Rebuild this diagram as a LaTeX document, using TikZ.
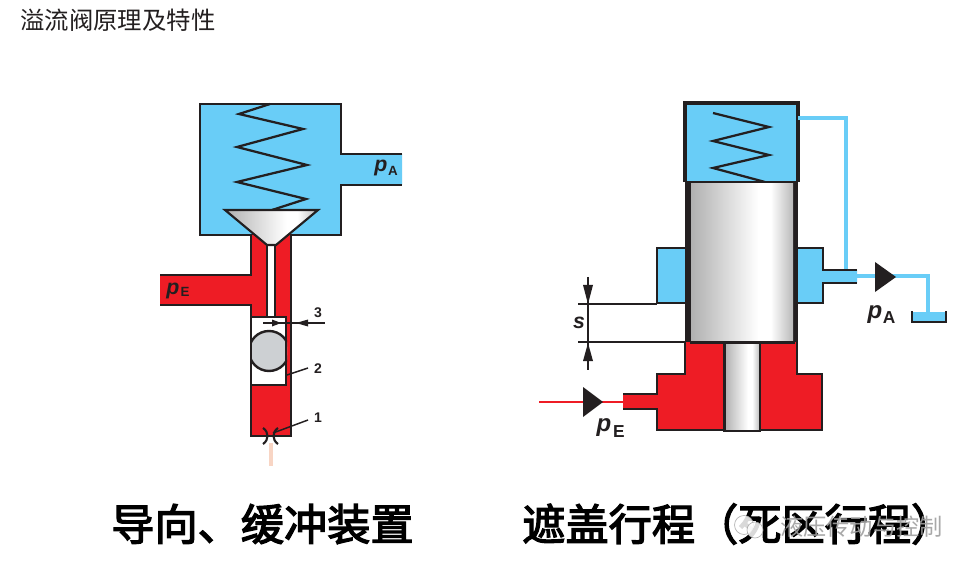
\documentclass[tikz,border=0pt]{standalone}
\usepackage{fontspec}
\setmainfont{Liberation Sans}
\newfontfamily\cjk{Noto Sans CJK SC}
\newfontfamily\cjkb{Noto Sans CJK SC}[FakeBold=3]
\definecolor{bluef}{HTML}{69CDF7}
\definecolor{redf}{HTML}{EE1C25}
\definecolor{ink}{HTML}{231F20}
\definecolor{ballc}{HTML}{CDD0D3}
\definecolor{pinkl}{HTML}{F8D5C4}
\pgfdeclarehorizontalshading{metal}{100bp}{color(0bp)=(gray!62);color(25bp)=(gray!62);color(58bp)=(white);color(64bp)=(white);color(75bp)=(gray!55);color(100bp)=(gray!55)}
\tikzset{
  wall/.style={draw=ink,line width=2pt,line join=miter},
  thickwall/.style={draw=ink,line width=2.8pt,line join=miter},
  thinl/.style={draw=ink,line width=1.1pt},
  coil/.style={draw=ink,line width=1.7pt,line join=miter},
  bluepipe/.style={draw=bluef,line width=2.6pt},
  tri/.style={fill=ink,draw=none},
  plabel/.style={font=\fontsize{16}{16}\selectfont\bfseries\itshape,text=ink,inner sep=0pt},
  sublabel/.style={font=\fontsize{10}{10}\selectfont\bfseries,text=ink,inner sep=0pt},
  numlabel/.style={font=\fontsize{10.5}{10.5}\selectfont\bfseries,text=ink,inner sep=0pt},
  bigtitle/.style={font=\cjkb\fontsize{32.4}{32.4}\selectfont,text=black,inner sep=0pt,anchor=west},
}
\begin{document}
\begin{tikzpicture}[x=0.75pt,y=-0.75pt]
\useasboundingbox[fill=white] (0,0) rectangle (974,570);
\node[inner sep=0pt,anchor=west,font=\cjk\fontsize{18.3}{18.3}\selectfont,text=ink] (heading) at (20,20) {溢流阀原理及特性};
% ---------- left valve
\path[fill=bluef] (200,104) -| (341,154) -| (402,185) -| (341,235) -| cycle;
\draw[wall] (402,154) -- (341,154) -- (341,104) -- (200,104) -- (200,235) -- (341,235) -- (341,185) -- (402,185);
\path[fill=redf] (252,235) -- (291,235) -- (291,436) -- (251,436) -- (251,305) -- (160,305) -- (160,275) -- (252,275) -- cycle;
\draw[wall] (160,275) -- (251,275) -- (251,235);
\draw[wall] (291,235) -- (291,436) -- (251,436) -- (251,305) -- (160,305);
\path[fill=white] (267,245) rectangle (275,317);
\draw[wall] (267,245) -- (267,317);
\draw[wall] (275,245) -- (275,317);
\path[fill=white] (251,317) rectangle (286,385);
\begin{scope}
\clip (251,317) rectangle (287,385);
\node[circle,fill=ballc,draw=ink,line width=1.8pt,minimum size=30pt,inner sep=0pt] (ball) at (269,351) {};
\end{scope}
\draw[wall] (251,317) -- (286,317) -- (286,385) -- (251,385) -- cycle;
\draw[coil] (270,104) -- (239,114) -- (303,129) -- (237,147) -- (307,165) -- (237,182) -- (306,199) -- (272,210);
\path[shading=metal,draw=ink,line width=1.6pt,line join=miter] (225,210) -- (318,210) -- (276,245) -- (267,245) -- cycle;
\draw[draw=ink,line width=0.9pt] (263,323) coordinate (d3a) -- (325,323) coordinate (d3b);
\fill[ink] (272,319.5) -- (281,323) -- (272,326.5) -- cycle;
\fill[ink] (308,319.5) -- (296,323) -- (308,326.5) -- cycle;
\draw[thinl] (287,375) coordinate (c2) -- (308,368) coordinate (c2b);
\draw[thinl] (273,433) coordinate (c1) -- (308,420) coordinate (c1b);
\draw[draw=pinkl,line width=2.4pt] (271,443) coordinate (o1) -- (271,466) coordinate (o2);
\draw[draw=ink,line width=1.6pt] (263,428) .. controls (269,432) and (269,440) .. (263,444);
\draw[draw=ink,line width=1.6pt] (278,428) .. controls (272,432) and (272,440) .. (278,444);
\node[numlabel] (n3) at (318,313) {3};
\node[numlabel] (n2) at (318,369) {2};
\node[numlabel] (n1) at (318,418) {1};
\node[plabel,anchor=center] (pEl) at (173,291) {p};
\node[sublabel] (pElb) at (185,292) {E};
\node[plabel] (pAl) at (381,168) {p};
\node[sublabel] (pAlb) at (393,171) {A};
% ---------- right valve
\path[fill=bluef] (685,103) rectangle (798,182);
\draw[thickwall] (685,182) -- (685,103) -- (798,103) -- (798,182);
\draw[coil] (713,113) -- (769,127) -- (713,141) -- (769,155) -- (713,168) -- (765,182);
% blue chambers
\path[fill=bluef] (657,248) rectangle (686,303);
\draw[wall] (686,248) -- (657,248) -- (657,303) -- (686,303);
\path[fill=bluef] (797,248) -- (823,248) -- (823,270) -- (857,270) -- (857,283) -- (823,283) -- (823,303) -- (797,303) -- cycle;
\draw[bluepipe] (798,118) -- (846,118) -- (846,270);
\draw[wall] (797,248) -- (823,248) -- (823,270) -- (857,270);
\draw[wall] (857,283) -- (823,283) -- (823,303) -- (797,303);
\draw[bluepipe] (857,276) -- (928,276) -- (928,312);
\fill[tri] (875,262) -- (896,277) -- (875,292) -- cycle;
\path[fill=bluef] (912,312) rectangle (946,321);
\draw[wall] (912,311) -- (912,322) -- (946,322) -- (946,311);
% red part
\path[fill=redf] (685,342) -- (797,342) -- (797,374) -- (822,374) -- (822,430) -- (657,430) -- (657,409) -- (623,409) -- (623,394) -- (657,394) -- (657,374) -- (685,374) -- cycle;
\draw[wall] (685,342) -- (685,374) -- (657,374) -- (657,394) -- (623,394);
\draw[wall] (623,409) -- (657,409) -- (657,430) -- (822,430) -- (822,374) -- (797,374) -- (797,342);
\draw[draw=redf,line width=1.8pt] (539,402) coordinate (r1) -- (623,402) coordinate (r2);
\fill[tri] (583,387) -- (603,402) -- (583,417) -- cycle;
% piston
\fill[ink] (685,182) rectangle (692,342);
\fill[ink] (792,182) rectangle (798,342);
\path[shading=metal] (691,183) rectangle (793,342);
\draw[wall] (686,182) -- (797,182);
\draw[wall] (690,342.5) -- (795,342.5);
\path[shading=metal,draw=ink,line width=2.2pt] (724.5,343) rectangle (760,431);
% dimension s
\draw[thinl] (578,304) coordinate (s1) -- (657,304);
\draw[thinl] (578,342) coordinate (s2) -- (686,342);
\draw[draw=ink,line width=0.9pt] (588,277) coordinate (s3) -- (588,370) coordinate (s4);
\fill[ink] (583,285) -- (588,304) -- (593,285) -- cycle;
\fill[ink] (583,361) -- (588,343) -- (593,361) -- cycle;
\node[plabel] (sl) at (579,323) {s};
\node[plabel,font=\fontsize{18}{18}\selectfont\bfseries\itshape] (pAr) at (875,315) {p};
\node[font=\fontsize{13}{13}\selectfont\bfseries,text=ink,inner sep=0pt] (pArb) at (889,318) {A};
\node[plabel,font=\fontsize{18}{18}\selectfont\bfseries\itshape] (pEr) at (604,428) {p};
\node[font=\fontsize{13}{13}\selectfont\bfseries,text=ink,inner sep=0pt] (pErb) at (619,432) {E};
% ---------- captions
\node[bigtitle] (cap1) at (111,524) {导向、缓冲装置};
\node[bigtitle] (cap2) at (522,524) {遮盖行程（死区行程）};
% watermark
\draw[fill=white,draw=gray!70,line width=0.5pt,opacity=.85] (744,525) circle (9.5);
\draw[fill=white,draw=gray!70,line width=0.5pt,opacity=.85] (755,530) circle (8);
\node[inner sep=0pt,anchor=west,font=\cjk\fontsize{17.4}{17.4}\selectfont,text=gray!75,opacity=.9] (wm) at (780,527) {液压传动与控制};
\end{tikzpicture}
\end{document}
